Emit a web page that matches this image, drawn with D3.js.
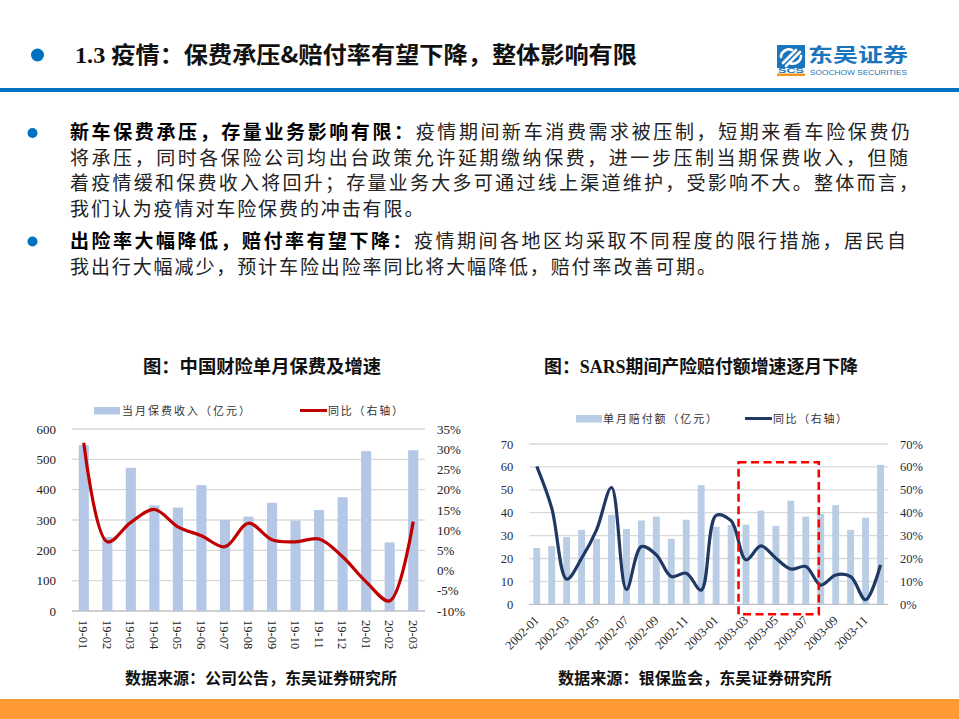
<!DOCTYPE html>
<html><head><meta charset="utf-8">
<script src="https://cdn.jsdelivr.net/npm/d3@7"></script>
<style>
html,body{margin:0;padding:0;background:#fff;}
svg{display:block;}
</style></head>
<body>
<svg id="c" width="959" height="719"></svg>
<script>
// ---------- DATA ----------
const leftCats = ["19-01","19-02","19-03","19-04","19-05","19-06","19-07","19-08","19-09","19-10","19-11","19-12","20-01","20-02","20-03"];
const leftPremium = [547,244,472,348,341,415,300,311,357,298,333,375,527,226,530];
const leftYoY = [31.6,7.1,11.9,15.1,10.8,8.6,5.9,11.7,7.6,7.1,7.8,3.4,-2.8,-7.5,12.1];
const leftTicksL = [0,100,200,300,400,500,600];
const leftTicksR = [-10,-5,0,5,10,15,20,25,30,35];

const rightCats = ["2002-01","2002-02","2002-03","2002-04","2002-05","2002-06","2002-07","2002-08","2002-09","2002-10","2002-11","2002-12",
                   "2003-01","2003-02","2003-03","2003-04","2003-05","2003-06","2003-07","2003-08","2003-09","2003-10","2003-11","2003-12"];
const rightClaims = [24.6,25.4,29.4,32.5,28.6,39.1,32.9,36.6,38.3,28.6,36.9,52.0,33.8,34.7,34.8,40.9,34.2,45.2,38.3,39.5,43.3,32.5,37.8,60.9];
const rightYoY = [60.2,42,11,20.1,32.5,51,6.5,25.2,21.6,12.1,13.6,6.2,38.8,36.5,19.4,25.5,20.1,15.4,16.5,8.4,12.8,12.1,2,17.2];
const rightTicksL = [0,10,20,30,40,50,60,70];
const rightTicksR = [0,10,20,30,40,50,60,70];
const highlightFrom = "2003-03", highlightTo = "2003-08", highlightTop = 62;

const headerTitle = "疫情：保费承压&赔付率有望下降，整体影响有限";
const leftTitle = "图：中国财险单月保费及增速";
const rightTitle = ["图：","SARS","期间产险赔付额增速逐月下降"];
const leftLegend = ["当月保费收入（亿元）","同比（右轴）"];
const rightLegend = ["单月赔付额（亿元）","同比（右轴）"];
const leftSource = "数据来源：公司公告，东吴证券研究所";
const rightSource = "数据来源：银保监会，东吴证券研究所";
const para1 = [
  ["新车保费承压，存量业务影响有限：","疫情期间新车消费需求被压制，短期来看车险保费仍"],
  ["","将承压，同时各保险公司均出台政策允许延期缴纳保费，进一步压制当期保费收入，但随"],
  ["","着疫情缓和保费收入将回升；存量业务大多可通过线上渠道维护，受影响不大。整体而言，"],
  ["","我们认为疫情对车险保费的冲击有限。"]
];
const para2 = [
  ["出险率大幅降低，赔付率有望下降：","疫情期间各地区均采取不同程度的限行措施，居民自"],
  ["","我出行大幅减少，预计车险出险率同比将大幅降低，赔付率改善可期。"]
];

// ---------- DRAW ----------
const svg = d3.select("#c");
const CJK = "'Noto Sans CJK SC','Noto Sans',sans-serif";
const SERIF = "'Liberation Serif','Times New Roman','Noto Sans CJK SC',serif";
const BLUE = "#0070C0";

// header
svg.append("circle").attr("cx",37.5).attr("cy",55).attr("r",6.5).attr("fill",BLUE);
const ht = svg.append("text").attr("x",75).attr("y",63)
  .attr("font-family",SERIF).attr("font-weight","bold").attr("font-size",23).attr("fill","#111")
  .attr("textLength",562).attr("lengthAdjust","spacingAndGlyphs");
ht.append("tspan").text("1.3 ");
ht.append("tspan").attr("font-family",CJK).text(headerTitle);
svg.append("rect").attr("x",0).attr("y",88).attr("width",959).attr("height",4).attr("fill",BLUE);

// logo
const logo = svg.append("g");
logo.append("rect").attr("x",777).attr("y",45).attr("width",28).attr("height",23).attr("fill","#1B75BC");
logo.append("path").attr("d","M783,63 L796,50 M786,66 L800,52 M781,57 C781,51 788,48 792,50 M801,56 C801,62 794,65 790,63")
  .attr("stroke","#fff").attr("stroke-width",2.6).attr("fill","none").attr("stroke-linecap","round");
logo.append("text").attr("x",791).attr("y",73).attr("text-anchor","middle").attr("font-family","'Liberation Sans',Arial,sans-serif")
  .attr("font-weight","bold").attr("font-size",6.5).attr("fill","#1B75BC").attr("textLength",26).attr("lengthAdjust","spacingAndGlyphs").text("SCS");
logo.append("rect").attr("x",777).attr("y",73.5).attr("width",28).attr("height",2.5).attr("fill","#F7941D");
logo.append("text").attr("x",808).attr("y",62).attr("font-family",CJK).attr("font-weight","bold").attr("font-size",19)
  .attr("fill","#1B75BC").attr("textLength",100).attr("lengthAdjust","spacingAndGlyphs").text("东吴证券");
logo.append("text").attr("x",810).attr("y",75).attr("font-family","'Liberation Sans',Arial,sans-serif").attr("font-size",8)
  .attr("fill","#1B75BC").attr("textLength",97).attr("lengthAdjust","spacingAndGlyphs").text("SOOCHOW SECURITIES");

// body text
function para(lines, y0, widths){
  lines.forEach((ln,i)=>{
    const t = svg.append("text").attr("x",70).attr("y",y0+i*25.5+6.5)
      .attr("font-family",CJK).attr("font-size",19).attr("fill","#222");
    if(widths[i]) t.attr("textLength",widths[i]).attr("lengthAdjust","spacing");
    else t.attr("letter-spacing",1.9);
    if(ln[0]) t.append("tspan").attr("font-weight","bold").attr("fill","#000").text(ln[0]);
    t.append("tspan").text(ln[1]);
  });
}
svg.append("circle").attr("cx",32.5).attr("cy",133).attr("r",5).attr("fill",BLUE);
svg.append("circle").attr("cx",32.5).attr("cy",241.5).attr("r",5).attr("fill",BLUE);
para(para1,132.5,[840,838,848,0]);
para(para2,241.5,[836,0]);

// chart titles
svg.append("text").attr("x",143).attr("y",373).attr("font-family",CJK).attr("font-weight","bold").attr("font-size",18)
  .attr("fill","#111").attr("textLength",238).attr("lengthAdjust","spacingAndGlyphs").text(leftTitle);
const rt = svg.append("text").attr("x",544).attr("y",373).attr("font-family",CJK).attr("font-weight","bold").attr("font-size",18)
  .attr("fill","#111").attr("textLength",314).attr("lengthAdjust","spacingAndGlyphs");
rt.append("tspan").text(rightTitle[0]);
rt.append("tspan").attr("font-family",SERIF).text(rightTitle[1]);
rt.append("tspan").text(rightTitle[2]);

// ---------- LEFT CHART ----------
(function(){
  const x = d3.scaleBand().domain(leftCats).range([72,425]).paddingInner(0).paddingOuter(0);
  const yL = d3.scaleLinear().domain([0,600]).range([611,429]);
  const yR = d3.scaleLinear().domain([-10,35]).range([611,429]);
  const g = svg.append("g");
  g.selectAll("line.grid").data(leftTicksL).join("line").attr("class","grid")
    .attr("x1",72).attr("x2",425).attr("y1",d=>yL(d)).attr("y2",d=>yL(d))
    .attr("stroke",d=>d===0?"#BFBFBF":"#D9D9D9").attr("stroke-width",1.3);
  const bw = x.bandwidth()*0.43;
  g.selectAll("rect.bar").data(leftCats).join("rect").attr("class","bar")
    .attr("x",d=>x(d)+x.bandwidth()/2-bw/2).attr("width",bw)
    .attr("y",(d,i)=>yL(leftPremium[i])).attr("height",(d,i)=>yL(0)-yL(leftPremium[i]))
    .attr("fill","#B4C7E7");
  const line = d3.line().x((d,i)=>x(leftCats[i])+x.bandwidth()/2).y(d=>yR(d)).curve(d3.curveCatmullRom.alpha(0.5));
  g.append("path").attr("d",line(leftYoY)).attr("fill","none").attr("stroke","#C00000").attr("stroke-width",3.2);

  const axL = d3.axisLeft(yL).tickValues(leftTicksL).tickSize(0).tickPadding(16).tickFormat(d3.format("d"));
  const gl = g.append("g").attr("transform","translate(72,0)").call(axL);
  gl.select(".domain").remove();
  gl.selectAll("text").attr("font-family",SERIF).attr("font-size",13).attr("fill","#222");
  const axR = d3.axisRight(yR).tickValues(leftTicksR).tickSize(0).tickPadding(12).tickFormat(d=>d+"%");
  const gr = g.append("g").attr("transform","translate(425,0)").call(axR);
  gr.select(".domain").remove();
  gr.selectAll("text").attr("font-family",SERIF).attr("font-size",13).attr("fill","#222");

  g.selectAll("text.xl").data(leftCats).join("text").attr("class","xl")
    .attr("transform",d=>`translate(${x(d)+x.bandwidth()/2-4.5},620) rotate(90)`)
    .attr("font-family",SERIF).attr("font-size",12.5).attr("fill","#222").text(d=>d);

  // legend
  g.append("rect").attr("x",94).attr("y",407).attr("width",26).attr("height",7.5).attr("fill","#B4C7E7");
  g.append("text").attr("x",122).attr("y",415).attr("font-family",CJK).attr("font-size",11).attr("fill","#333")
    .attr("textLength",128).text(leftLegend[0]);
  g.append("line").attr("x1",300).attr("x2",327).attr("y1",410.5).attr("y2",410.5).attr("stroke","#C00000").attr("stroke-width",3);
  g.append("text").attr("x",328).attr("y",415).attr("font-family",CJK).attr("font-size",11).attr("fill","#333")
    .attr("textLength",75).text(leftLegend[1]);
})();

// ---------- RIGHT CHART ----------
(function(){
  const x = d3.scaleBand().domain(rightCats).range([529.3,888]).paddingInner(0).paddingOuter(0);
  const yL = d3.scaleLinear().domain([0,70]).range([604.3,444]);
  const yR = d3.scaleLinear().domain([0,70]).range([604.3,444]);
  const g = svg.append("g");
  g.selectAll("line.grid").data(rightTicksL).join("line").attr("class","grid")
    .attr("x1",529.3).attr("x2",888).attr("y1",d=>yL(d)).attr("y2",d=>yL(d))
    .attr("stroke",d=>d===0?"#BFBFBF":"#D9D9D9").attr("stroke-width",1.3);
  const bw = x.bandwidth()*0.46;
  g.selectAll("rect.bar").data(rightCats).join("rect").attr("class","bar")
    .attr("x",d=>x(d)+x.bandwidth()/2-bw/2).attr("width",bw)
    .attr("y",(d,i)=>yL(rightClaims[i])).attr("height",(d,i)=>yL(0)-yL(rightClaims[i]))
    .attr("fill","#B9CDE5");
  const line = d3.line().x((d,i)=>x(rightCats[i])+x.bandwidth()/2).y(d=>yR(d)).curve(d3.curveCatmullRom.alpha(0.5));
  g.append("path").attr("d",line(rightYoY)).attr("fill","none").attr("stroke","#203864").attr("stroke-width",3.2);

  const axL = d3.axisLeft(yL).tickValues(rightTicksL).tickSize(0).tickPadding(16).tickFormat(d3.format("d"));
  const gl = g.append("g").attr("transform","translate(529.3,0)").call(axL);
  gl.select(".domain").remove();
  gl.selectAll("text").attr("font-family",SERIF).attr("font-size",12.5).attr("fill","#1F2A44");
  const axR = d3.axisRight(yR).tickValues(rightTicksR).tickSize(0).tickPadding(12).tickFormat(d=>d+"%");
  const gr = g.append("g").attr("transform","translate(888,0)").call(axR);
  gr.select(".domain").remove();
  gr.selectAll("text").attr("font-family",SERIF).attr("font-size",12.5).attr("fill","#1F2A44");

  const shown = rightCats.filter((d,i)=>i%2===0);
  g.selectAll("text.xl").data(shown).join("text").attr("class","xl")
    .attr("transform",d=>`translate(${x(d)+x.bandwidth()/2+3},621) rotate(-45)`)
    .attr("text-anchor","end").attr("font-family",SERIF).attr("font-size",12.5).attr("fill","#222").text(d=>d);

  // highlight box
  const hx0 = x(highlightFrom), hx1 = x(highlightTo)+x.bandwidth()*0.37;
  g.append("rect").attr("x",hx0).attr("y",yL(highlightTop)).attr("width",hx1-hx0).attr("height",yL(0)+10-yL(highlightTop))
    .attr("fill","none").attr("stroke","#FF0000").attr("stroke-width",2.6).attr("stroke-dasharray","8,4.5");

  // legend
  g.append("rect").attr("x",576).attr("y",415).attr("width",26).attr("height",7.5).attr("fill","#B9CDE5");
  g.append("text").attr("x",603).attr("y",423).attr("font-family",CJK).attr("font-size",11).attr("fill","#333")
    .attr("textLength",114).text(rightLegend[0]);
  g.append("line").attr("x1",745).attr("x2",772).attr("y1",418.5).attr("y2",418.5).attr("stroke","#203864").attr("stroke-width",3);
  g.append("text").attr("x",773).attr("y",423).attr("font-family",CJK).attr("font-size",11).attr("fill","#333")
    .attr("textLength",74).text(rightLegend[1]);
})();

// sources
svg.append("text").attr("x",125).attr("y",684).attr("font-family",CJK).attr("font-weight","bold").attr("font-size",16)
  .attr("fill","#111").attr("textLength",272).attr("lengthAdjust","spacingAndGlyphs").text(leftSource);
svg.append("text").attr("x",558).attr("y",684).attr("font-family",CJK).attr("font-weight","bold").attr("font-size",16)
  .attr("fill","#111").attr("textLength",274).attr("lengthAdjust","spacingAndGlyphs").text(rightSource);

// bottom band
svg.append("rect").attr("x",0).attr("y",699).attr("width",959).attr("height",20).attr("fill","#FF9933");
</script>
</body></html>
